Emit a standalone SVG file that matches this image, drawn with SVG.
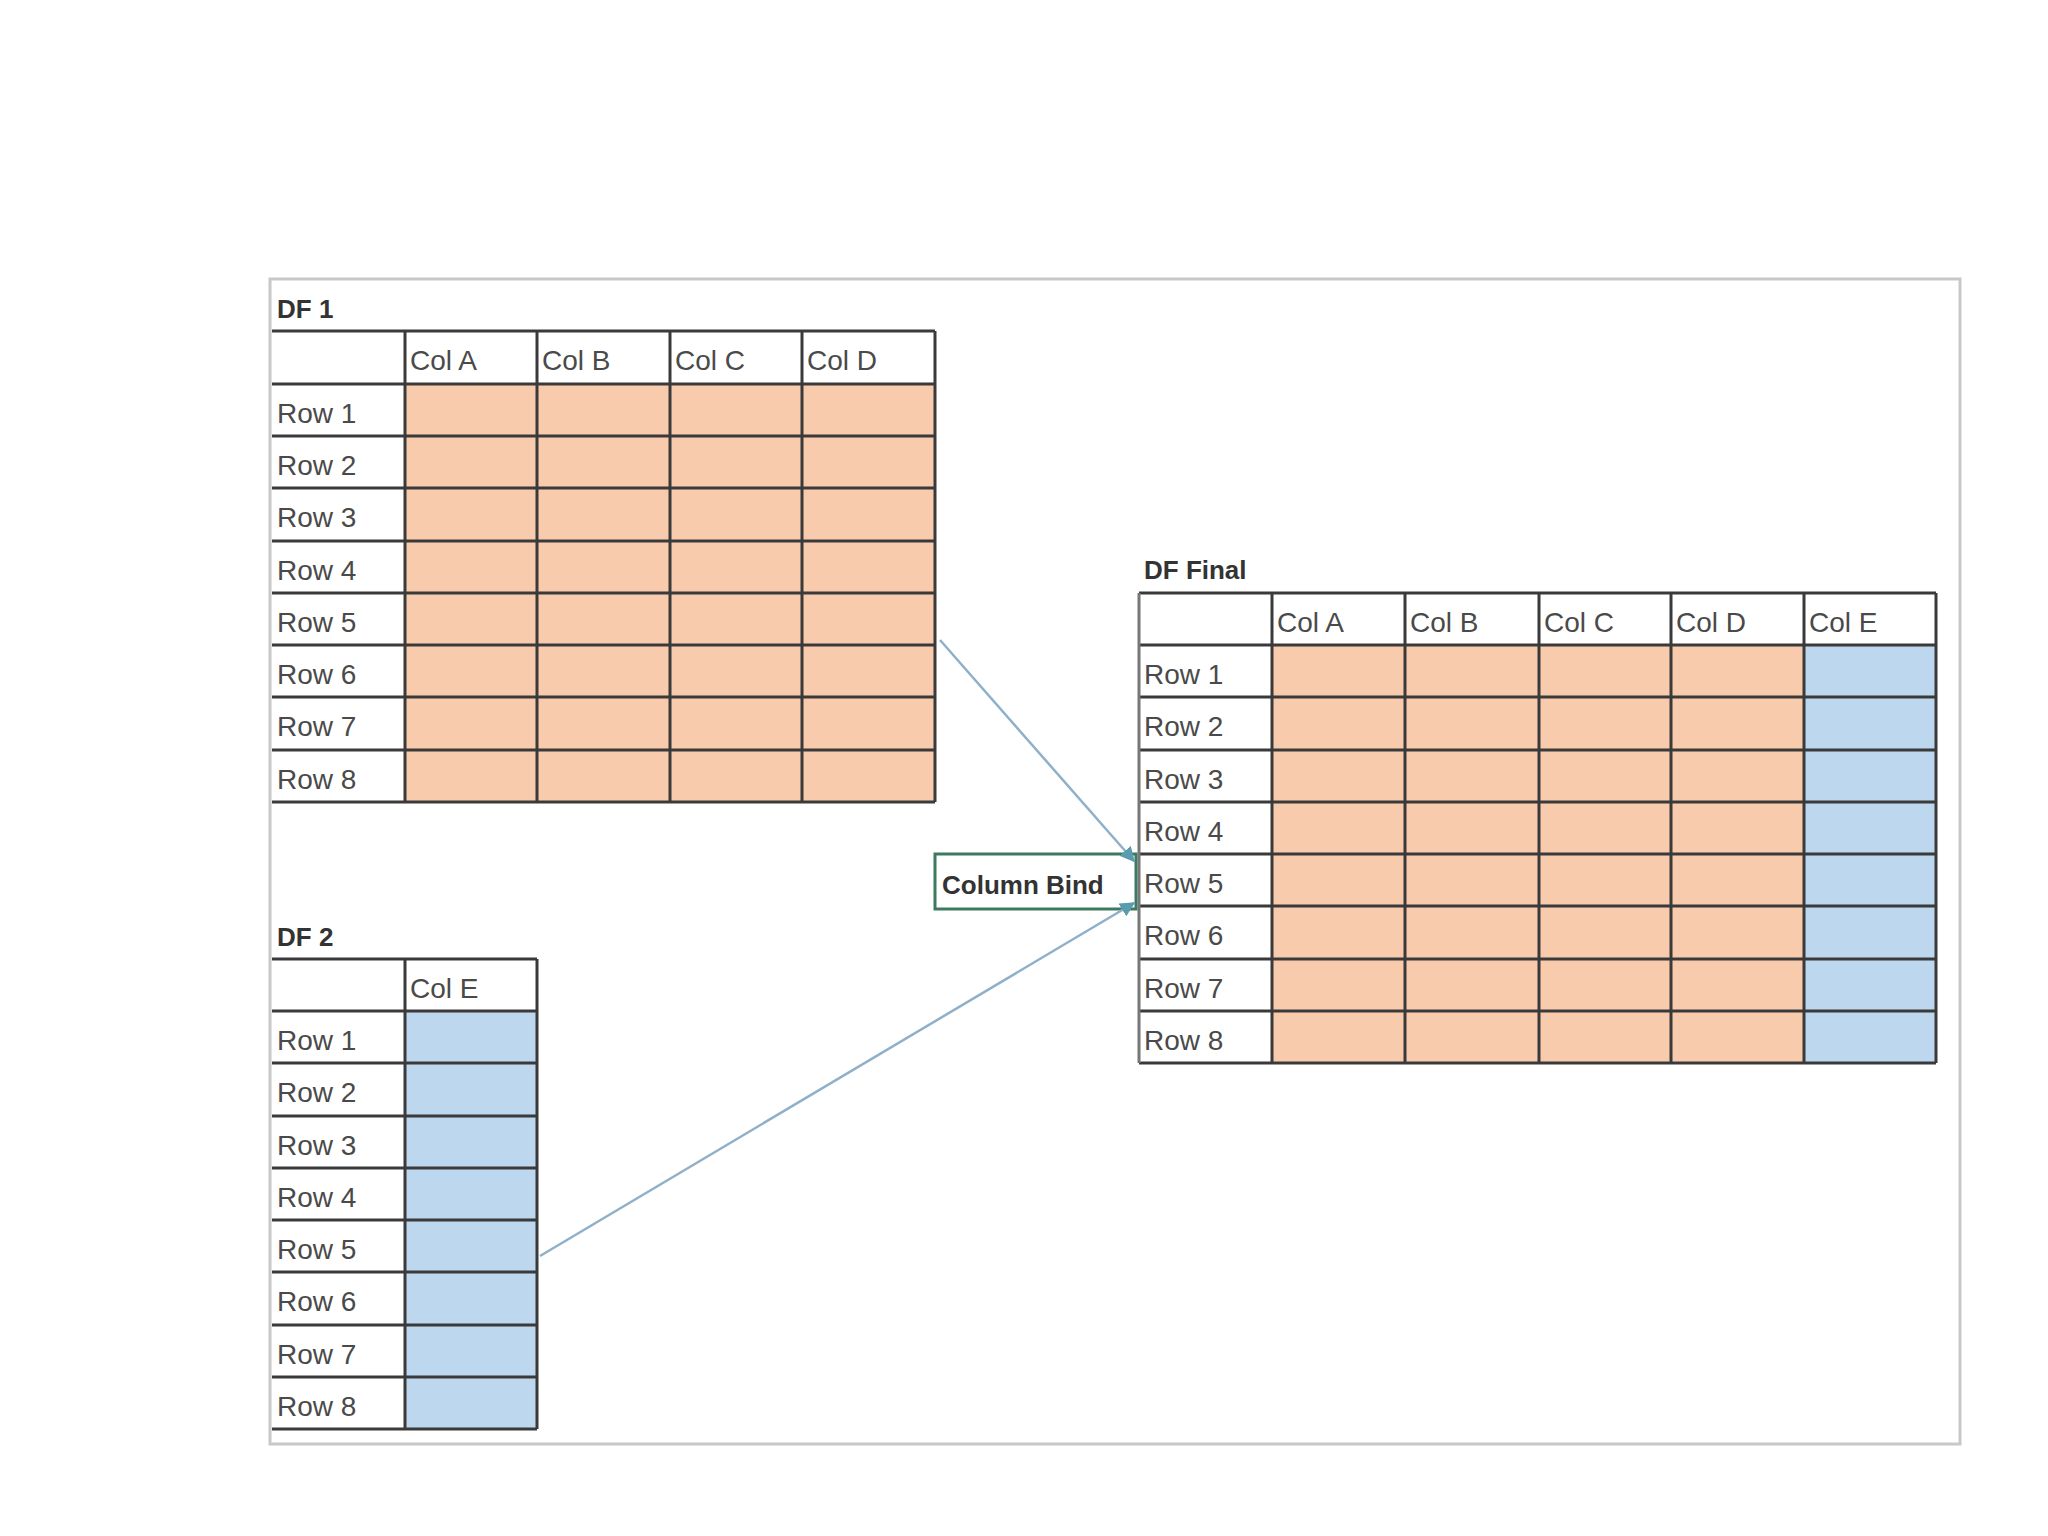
<svg xmlns="http://www.w3.org/2000/svg" width="2048" height="1536" viewBox="0 0 2048 1536">
<style>
.t{font-family:"Liberation Sans",Arial,sans-serif;font-size:28px;fill:#4a4a4a}
.h{font-family:"Liberation Sans",Arial,sans-serif;font-size:26px;font-weight:bold;fill:#333}
.g{stroke:#3a3a3a;stroke-width:3;fill:none}
.p{fill:#f8cbad}
.b{fill:#bdd7ee}
.c{stroke:#8fb0c8;stroke-width:2.5;fill:none}
</style>
<defs>
<marker id="ah" viewBox="0 0 10 10" refX="9" refY="5" markerWidth="6" markerHeight="6" orient="auto"><path d="M0,0 L10,5 L0,10 z" fill="#5b9bb0"/></marker>
</defs>
<rect width="2048" height="1536" fill="#fff"/>
<rect x="270" y="279" width="1690" height="1165" fill="none" stroke="#c8c8c8" stroke-width="3"/>

<g id="df1">
<text class="h" x="277" y="318">DF 1</text>
<rect class="p" x="405" y="384" width="530" height="418"/>
<g class="g">
<line x1="272" y1="331" x2="935" y2="331"/>
<line x1="272" y1="384" x2="935" y2="384"/>
<line x1="272" y1="436" x2="935" y2="436"/>
<line x1="272" y1="488" x2="935" y2="488"/>
<line x1="272" y1="541" x2="935" y2="541"/>
<line x1="272" y1="593" x2="935" y2="593"/>
<line x1="272" y1="645" x2="935" y2="645"/>
<line x1="272" y1="697" x2="935" y2="697"/>
<line x1="272" y1="750" x2="935" y2="750"/>
<line x1="272" y1="802" x2="935" y2="802"/>
<line x1="405" y1="331" x2="405" y2="802"/>
<line x1="537" y1="331" x2="537" y2="802"/>
<line x1="670" y1="331" x2="670" y2="802"/>
<line x1="802" y1="331" x2="802" y2="802"/>
<line x1="935" y1="331" x2="935" y2="802"/>
</g>
<text class="t" x="410" y="370">Col A</text>
<text class="t" x="542" y="370">Col B</text>
<text class="t" x="675" y="370">Col C</text>
<text class="t" x="807" y="370">Col D</text>
<text class="t" x="277" y="423">Row 1</text>
<text class="t" x="277" y="475">Row 2</text>
<text class="t" x="277" y="527">Row 3</text>
<text class="t" x="277" y="580">Row 4</text>
<text class="t" x="277" y="632">Row 5</text>
<text class="t" x="277" y="684">Row 6</text>
<text class="t" x="277" y="736">Row 7</text>
<text class="t" x="277" y="789">Row 8</text>
</g>

<g id="df2">
<text class="h" x="277" y="946">DF 2</text>
<rect class="b" x="405" y="1011" width="132" height="418"/>
<g class="g">
<line x1="272" y1="959" x2="537" y2="959"/>
<line x1="272" y1="1011" x2="537" y2="1011"/>
<line x1="272" y1="1063" x2="537" y2="1063"/>
<line x1="272" y1="1116" x2="537" y2="1116"/>
<line x1="272" y1="1168" x2="537" y2="1168"/>
<line x1="272" y1="1220" x2="537" y2="1220"/>
<line x1="272" y1="1272" x2="537" y2="1272"/>
<line x1="272" y1="1325" x2="537" y2="1325"/>
<line x1="272" y1="1377" x2="537" y2="1377"/>
<line x1="272" y1="1429" x2="537" y2="1429"/>
<line x1="405" y1="959" x2="405" y2="1429"/>
<line x1="537" y1="959" x2="537" y2="1429"/>
</g>
<text class="t" x="410" y="998">Col E</text>
<text class="t" x="277" y="1050">Row 1</text>
<text class="t" x="277" y="1102">Row 2</text>
<text class="t" x="277" y="1155">Row 3</text>
<text class="t" x="277" y="1207">Row 4</text>
<text class="t" x="277" y="1259">Row 5</text>
<text class="t" x="277" y="1311">Row 6</text>
<text class="t" x="277" y="1364">Row 7</text>
<text class="t" x="277" y="1416">Row 8</text>
</g>

<g id="dffinal">
<text class="h" x="1144" y="579">DF Final</text>
<rect class="p" x="1272" y="645" width="532" height="418"/>
<rect class="b" x="1804" y="645" width="132" height="418"/>
<g class="g">
<line x1="1139" y1="593" x2="1936" y2="593"/>
<line x1="1139" y1="645" x2="1936" y2="645"/>
<line x1="1139" y1="697" x2="1936" y2="697"/>
<line x1="1139" y1="750" x2="1936" y2="750"/>
<line x1="1139" y1="802" x2="1936" y2="802"/>
<line x1="1139" y1="854" x2="1936" y2="854"/>
<line x1="1139" y1="906" x2="1936" y2="906"/>
<line x1="1139" y1="959" x2="1936" y2="959"/>
<line x1="1139" y1="1011" x2="1936" y2="1011"/>
<line x1="1139" y1="1063" x2="1936" y2="1063"/>
<line x1="1139" y1="593" x2="1139" y2="1063" stroke="#777"/>
<line x1="1272" y1="593" x2="1272" y2="1063"/>
<line x1="1405" y1="593" x2="1405" y2="1063"/>
<line x1="1539" y1="593" x2="1539" y2="1063"/>
<line x1="1671" y1="593" x2="1671" y2="1063"/>
<line x1="1804" y1="593" x2="1804" y2="1063"/>
<line x1="1936" y1="593" x2="1936" y2="1063"/>
</g>
<text class="t" x="1277" y="632">Col A</text>
<text class="t" x="1410" y="632">Col B</text>
<text class="t" x="1544" y="632">Col C</text>
<text class="t" x="1676" y="632">Col D</text>
<text class="t" x="1809" y="632">Col E</text>
<text class="t" x="1144" y="684">Row 1</text>
<text class="t" x="1144" y="736">Row 2</text>
<text class="t" x="1144" y="789">Row 3</text>
<text class="t" x="1144" y="841">Row 4</text>
<text class="t" x="1144" y="893">Row 5</text>
<text class="t" x="1144" y="945">Row 6</text>
<text class="t" x="1144" y="998">Row 7</text>
<text class="t" x="1144" y="1050">Row 8</text>
</g>

<g id="columnbind">
<rect x="935" y="854" width="201" height="55" fill="#fff" stroke="#3c7a60" stroke-width="3"/>
<text class="h" x="942" y="894" style="font-weight:600;font-size:26px">Column Bind</text>
</g>

<g id="connectors">
<line class="c" x1="940" y1="640" x2="1134" y2="861" marker-end="url(#ah)"/>
<line class="c" x1="540" y1="1256" x2="1134" y2="903" marker-end="url(#ah)"/>
</g>
</svg>
